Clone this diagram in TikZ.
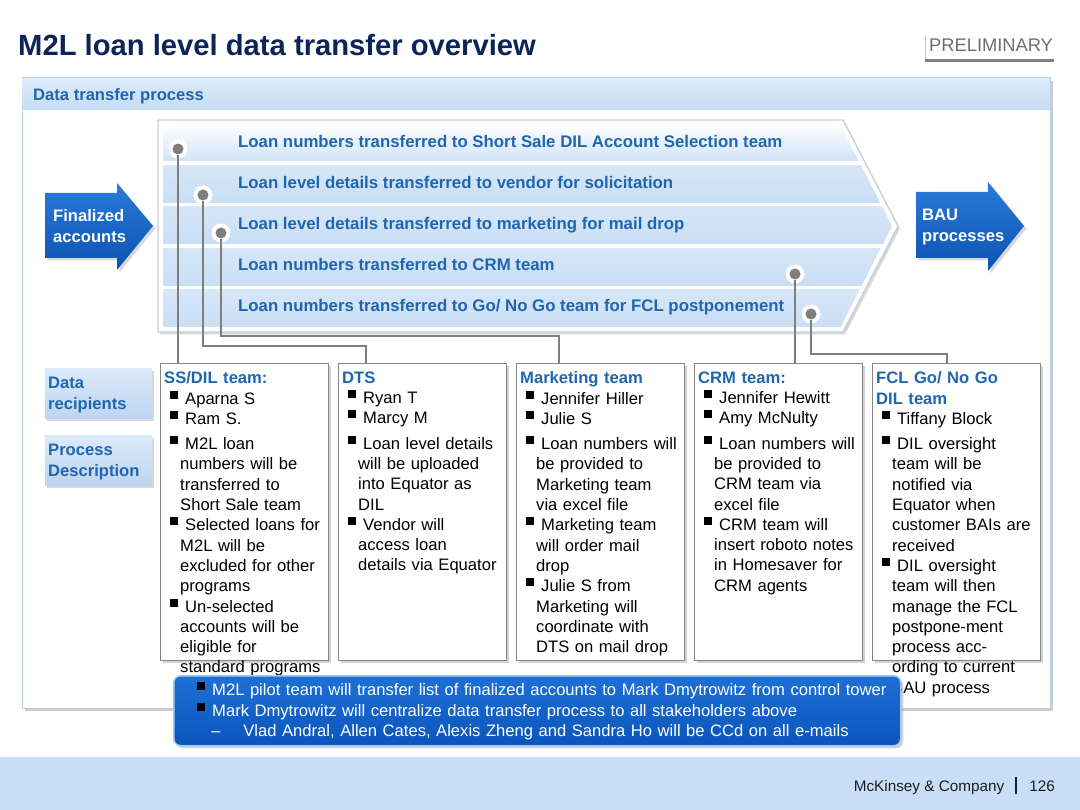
\documentclass[tikz,border=0pt]{standalone}
\usepackage{fontspec}
\setmainfont{Liberation Sans}
\usetikzlibrary{shadows}
\definecolor{navy}{HTML}{0C2557}
\definecolor{tblue}{HTML}{1F66B1}
\definecolor{stripeblue}{HTML}{C9DEF5}
\definecolor{hdrblue}{HTML}{C4DBF4}
\definecolor{panelline}{HTML}{B7CFEA}
\definecolor{arrowtop}{HTML}{2A7BD9}
\definecolor{arrowbot}{HTML}{0B53B3}
\definecolor{linegrey}{HTML}{7E7E7E}
\definecolor{boxline}{HTML}{868686}
\definecolor{footblue}{HTML}{C8DEF6}
\definecolor{prelimgrey}{HTML}{6E6E6E}
\definecolor{chevline}{HTML}{C3CEDB}
\definecolor{bartop}{HTML}{1E70D4}
\definecolor{barbot}{HTML}{0A55BC}
\definecolor{barline}{HTML}{A8CAF0}
\definecolor{lbltop}{HTML}{DCEAF9}
\definecolor{lblbot}{HTML}{BCD5F1}
\definecolor{foottext}{HTML}{1E1E1E}

\newcommand\bsq{\raisebox{5.5pt}{\rule{8pt}{8pt}}}
\newcommand\bitem{\par\noindent\hspace*{-10pt}\bsq\hspace{7pt}\ignorespaces}

\begin{document}
\begin{tikzpicture}[x=1pt,y=-1pt,
  bodyfont/.style={font=\fontsize{16.6}{20.3}\selectfont},
  boldfont/.style={font=\fontsize{16.6}{21}\selectfont\bfseries},
  stripetext/.style={anchor=base west, inner sep=0pt, font=\fontsize{16.8}{21}\selectfont\bfseries, text=tblue},
  teambox/.style={draw=boxline, line width=1.3pt, fill=white, minimum width=168pt, minimum height=297pt, anchor=north west, inner sep=0pt, drop shadow={shadow xshift=2.5pt, shadow yshift=-2.5pt, opacity=0.35}},
  teamtext/.style={anchor=north west, inner sep=0pt, text width=190pt, align=left, bodyfont},
  halo/.style={circle, fill=white, minimum size=19pt, inner sep=0pt},
  dotnode/.style={circle, fill=linegrey, minimum size=11pt, inner sep=0pt},
  connector/.style={draw=linegrey, line width=2.4pt},
  lblbox/.style={anchor=north west, top color=lbltop, bottom color=lblbot, minimum height=50pt, minimum width=107pt, inner sep=0pt, drop shadow={shadow xshift=2pt, shadow yshift=-2.5pt, opacity=0.3}},
  lbltext/.style={anchor=north west, align=left, inner sep=0pt, boldfont, text=tblue},
  arrowshape/.style={top color=arrowtop, bottom color=arrowbot, drop shadow={shadow xshift=2.5pt, shadow yshift=-2.5pt, opacity=0.3}},
  arrowtext/.style={anchor=west, align=left, inner sep=0pt, boldfont, text=white},
]
\useasboundingbox (0,0) rectangle (1080,810);
\fill[white] (0,0) rectangle (1080,810);

% title
\node[anchor=base west, inner sep=0pt, font=\fontsize{29.2}{31}\selectfont\bfseries, text=navy] (title) at (18,56) {M2L loan level data transfer overview};
\node[anchor=base west, inner sep=0pt, font=\fontsize{18.3}{20}\selectfont, text=prelimgrey] (prelim) at (929,52) {PRELIMINARY};
\draw[black!22, line width=0.8pt] ([xshift=-4pt,yshift=3pt]prelim.north west) -- ([xshift=-4pt,yshift=-8pt]prelim.south west);
\draw[black!50, line width=3pt] ([xshift=-4pt,yshift=-8pt]prelim.south west) -- ([xshift=1pt,yshift=-8pt]prelim.south east);

% panel
\path[fill=white, draw=panelline, line width=1pt, drop shadow={shadow xshift=3pt, shadow yshift=-3pt, opacity=0.4}] (22,78) rectangle (1050,708);
\shade[top color=hdrblue!55!white, bottom color=hdrblue] (22.5,78.5) rectangle (1049.5,110);
\node[anchor=base west, inner sep=0pt, boldfont, text=tblue] (hdrtext) at (33,101) {Data transfer process};

% side arrows
\path[arrowshape] (45,193) -- (117,193) -- (117,183) -- (153,226) -- (117,270) -- (117,258) -- (45,258) -- cycle;
\node[arrowtext] (fin) at (53,226) {Finalized\\accounts};
\path[arrowshape] (916,192) -- (988,192) -- (988,182) -- (1024,226) -- (988,271) -- (988,258) -- (916,258) -- cycle;
\node[arrowtext] (bau) at (922,227) {BAU\\processes};

% chevron band
\path[fill=white, draw=chevline, line width=1.2pt, drop shadow={shadow xshift=2pt, shadow yshift=-2.5pt, opacity=0.3}] (158,120) -- (843,120) -- (898,226) -- (843,332) -- (158,332) -- cycle;
\begin{scope}
\clip (163,124) -- (840,124) -- (892,226) -- (840,328) -- (163,328) -- cycle;
\shade[top color=white, bottom color=stripeblue!85] (163,124) rectangle (900,161);
\foreach \t in {165.5,207,248.5,290}{
  \shade[top color=stripeblue!75, bottom color=stripeblue] (163,\t) rectangle (900,\t+37);
}
\end{scope}
\node[stripetext] (s1) at (238,148) {Loan numbers transferred to Short Sale DIL Account Selection team};
\node[stripetext] (s2) at (238,189) {Loan level details transferred to vendor for solicitation};
\node[stripetext] (s3) at (238,230) {Loan level details transferred to marketing for mail drop};
\node[stripetext] (s4) at (238,271) {Loan numbers transferred to CRM team};
\node[stripetext] (s5) at (238,312) {Loan numbers transferred to Go/ No Go team for FCL postponement};

% dots
\node[halo] (h1) at (178,149) {};
\node[halo] (h2) at (203,195) {};
\node[halo] (h3) at (221,233) {};
\node[halo] (h4) at (795,274) {};
\node[halo] (h5) at (811,314) {};
\node[dotnode] (d1) at (178,149) {};
\node[dotnode] (d2) at (203,195) {};
\node[dotnode] (d3) at (221,233) {};
\node[dotnode] (d4) at (795,274) {};
\node[dotnode] (d5) at (811,314) {};

% label boxes
\node[lblbox] (lrec) at (45,368) {};
\node[lbltext] (lrect) at (48,377) {Data\\recipients};
\node[lblbox] (lproc) at (45,435) {};
\node[lbltext] (lproct) at (48,444) {Process\\Description};

% team boxes
\node[teambox] (b1) at (160,363) {};
\node[teambox] (b2) at (338,363) {};
\node[teambox] (b3) at (516,363) {};
\node[teambox] (b4) at (694,363) {};
\node[teambox] (b5) at (872,363) {};

\node[teamtext] (t1) at (164,371.5) {\textcolor{tblue}{\bfseries SS/DIL team:}\par\leftskip=16pt
\bitem Aparna S
\bitem Ram S.\par\vspace{5pt}
\bitem M2L loan\newline numbers will be\newline transferred to\newline Short Sale team
\bitem Selected loans for\newline M2L will be\newline excluded for other\newline programs
\bitem Un-selected\newline accounts will be\newline eligible for\newline standard programs\par};

\node[teamtext] (t2) at (342,371.5) {\textcolor{tblue}{\bfseries DTS}\par\leftskip=16pt
\bitem Ryan T
\bitem Marcy M\par\vspace{5pt}
\bitem Loan level details\newline will be uploaded\newline into Equator as\newline DIL
\bitem Vendor will\newline access loan\newline details via Equator\par};

\node[teamtext] (t3) at (520,371.5) {\textcolor{tblue}{\bfseries Marketing team}\par\leftskip=16pt
\bitem Jennifer Hiller
\bitem Julie S\par\vspace{5pt}
\bitem Loan numbers will\newline be provided to\newline Marketing team\newline via excel file
\bitem Marketing team\newline will order mail\newline drop
\bitem Julie S from\newline Marketing will\newline coordinate with\newline DTS on mail drop\par};

\node[teamtext] (t4) at (698,371.5) {\textcolor{tblue}{\bfseries CRM team:}\par\leftskip=16pt
\bitem Jennifer Hewitt
\bitem Amy McNulty\par\vspace{5pt}
\bitem Loan numbers will\newline be provided to\newline CRM team via\newline excel file
\bitem CRM team will\newline insert roboto notes\newline in Homesaver for\newline CRM agents\par};

\node[teamtext] (t5) at (876,371.5) {\textcolor{tblue}{\bfseries FCL Go/ No Go\newline DIL team}\par\leftskip=16pt
\bitem Tiffany Block\par\vspace{5pt}
\bitem DIL oversight\newline team will be\newline notified via\newline Equator when\newline customer BAIs are\newline received
\bitem DIL oversight\newline team will then\newline manage the FCL\newline postpone-ment\newline process acc-\newline ording to current\newline BAU process\par};

% connectors
\coordinate (j2) at (366,346);
\coordinate (j3) at (559,336);
\coordinate (j5) at (947,354);
\draw[connector] (d1.south) -- (d1.south |- b1.north);
\draw[connector] (d2.south) |- (j2) -- (j2 |- b2.north);
\draw[connector] (d3.south) |- (j3) -- (j3 |- b3.north);
\draw[connector] (d4.south) -- (d4.south |- b4.north);
\draw[connector] (d5.south) |- (j5) -- (j5 |- b5.north);

% bottom bar
\node[anchor=north west, minimum width=727pt, minimum height=70pt, inner sep=0pt, rounded corners=7pt, top color=bartop, bottom color=barbot, draw=barline, line width=1.5pt, drop shadow={shadow xshift=2.5pt, shadow yshift=-2.5pt, opacity=0.35}] (bar) at (173,675) {};
\node[anchor=north west, inner sep=0pt, text width=720pt, align=left, bodyfont, text=white] (bartext) at (197,682) {\textcolor{black}{\bsq}\hspace{7pt}M2L pilot team will transfer list of finalized accounts to Mark Dmytrowitz from control tower\newline
\textcolor{black}{\bsq}\hspace{7pt}Mark Dmytrowitz will centralize data transfer process to all stakeholders above\newline
\hspace*{14pt}\textendash\hspace{23pt}Vlad Andral, Allen Cates, Alexis Zheng and Sandra Ho will be CCd on all e-mails\par};

% footer
\fill[footblue] (0,757) rectangle (1080,810);
\node[anchor=base east, inner sep=0pt, font=\fontsize{15.3}{18}\selectfont, text=foottext] (foot) at (1055,791) {McKinsey \& Company\hspace{11pt}\rule[-3pt]{2pt}{17pt}\hspace{12pt}126};
\end{tikzpicture}
\end{document}
